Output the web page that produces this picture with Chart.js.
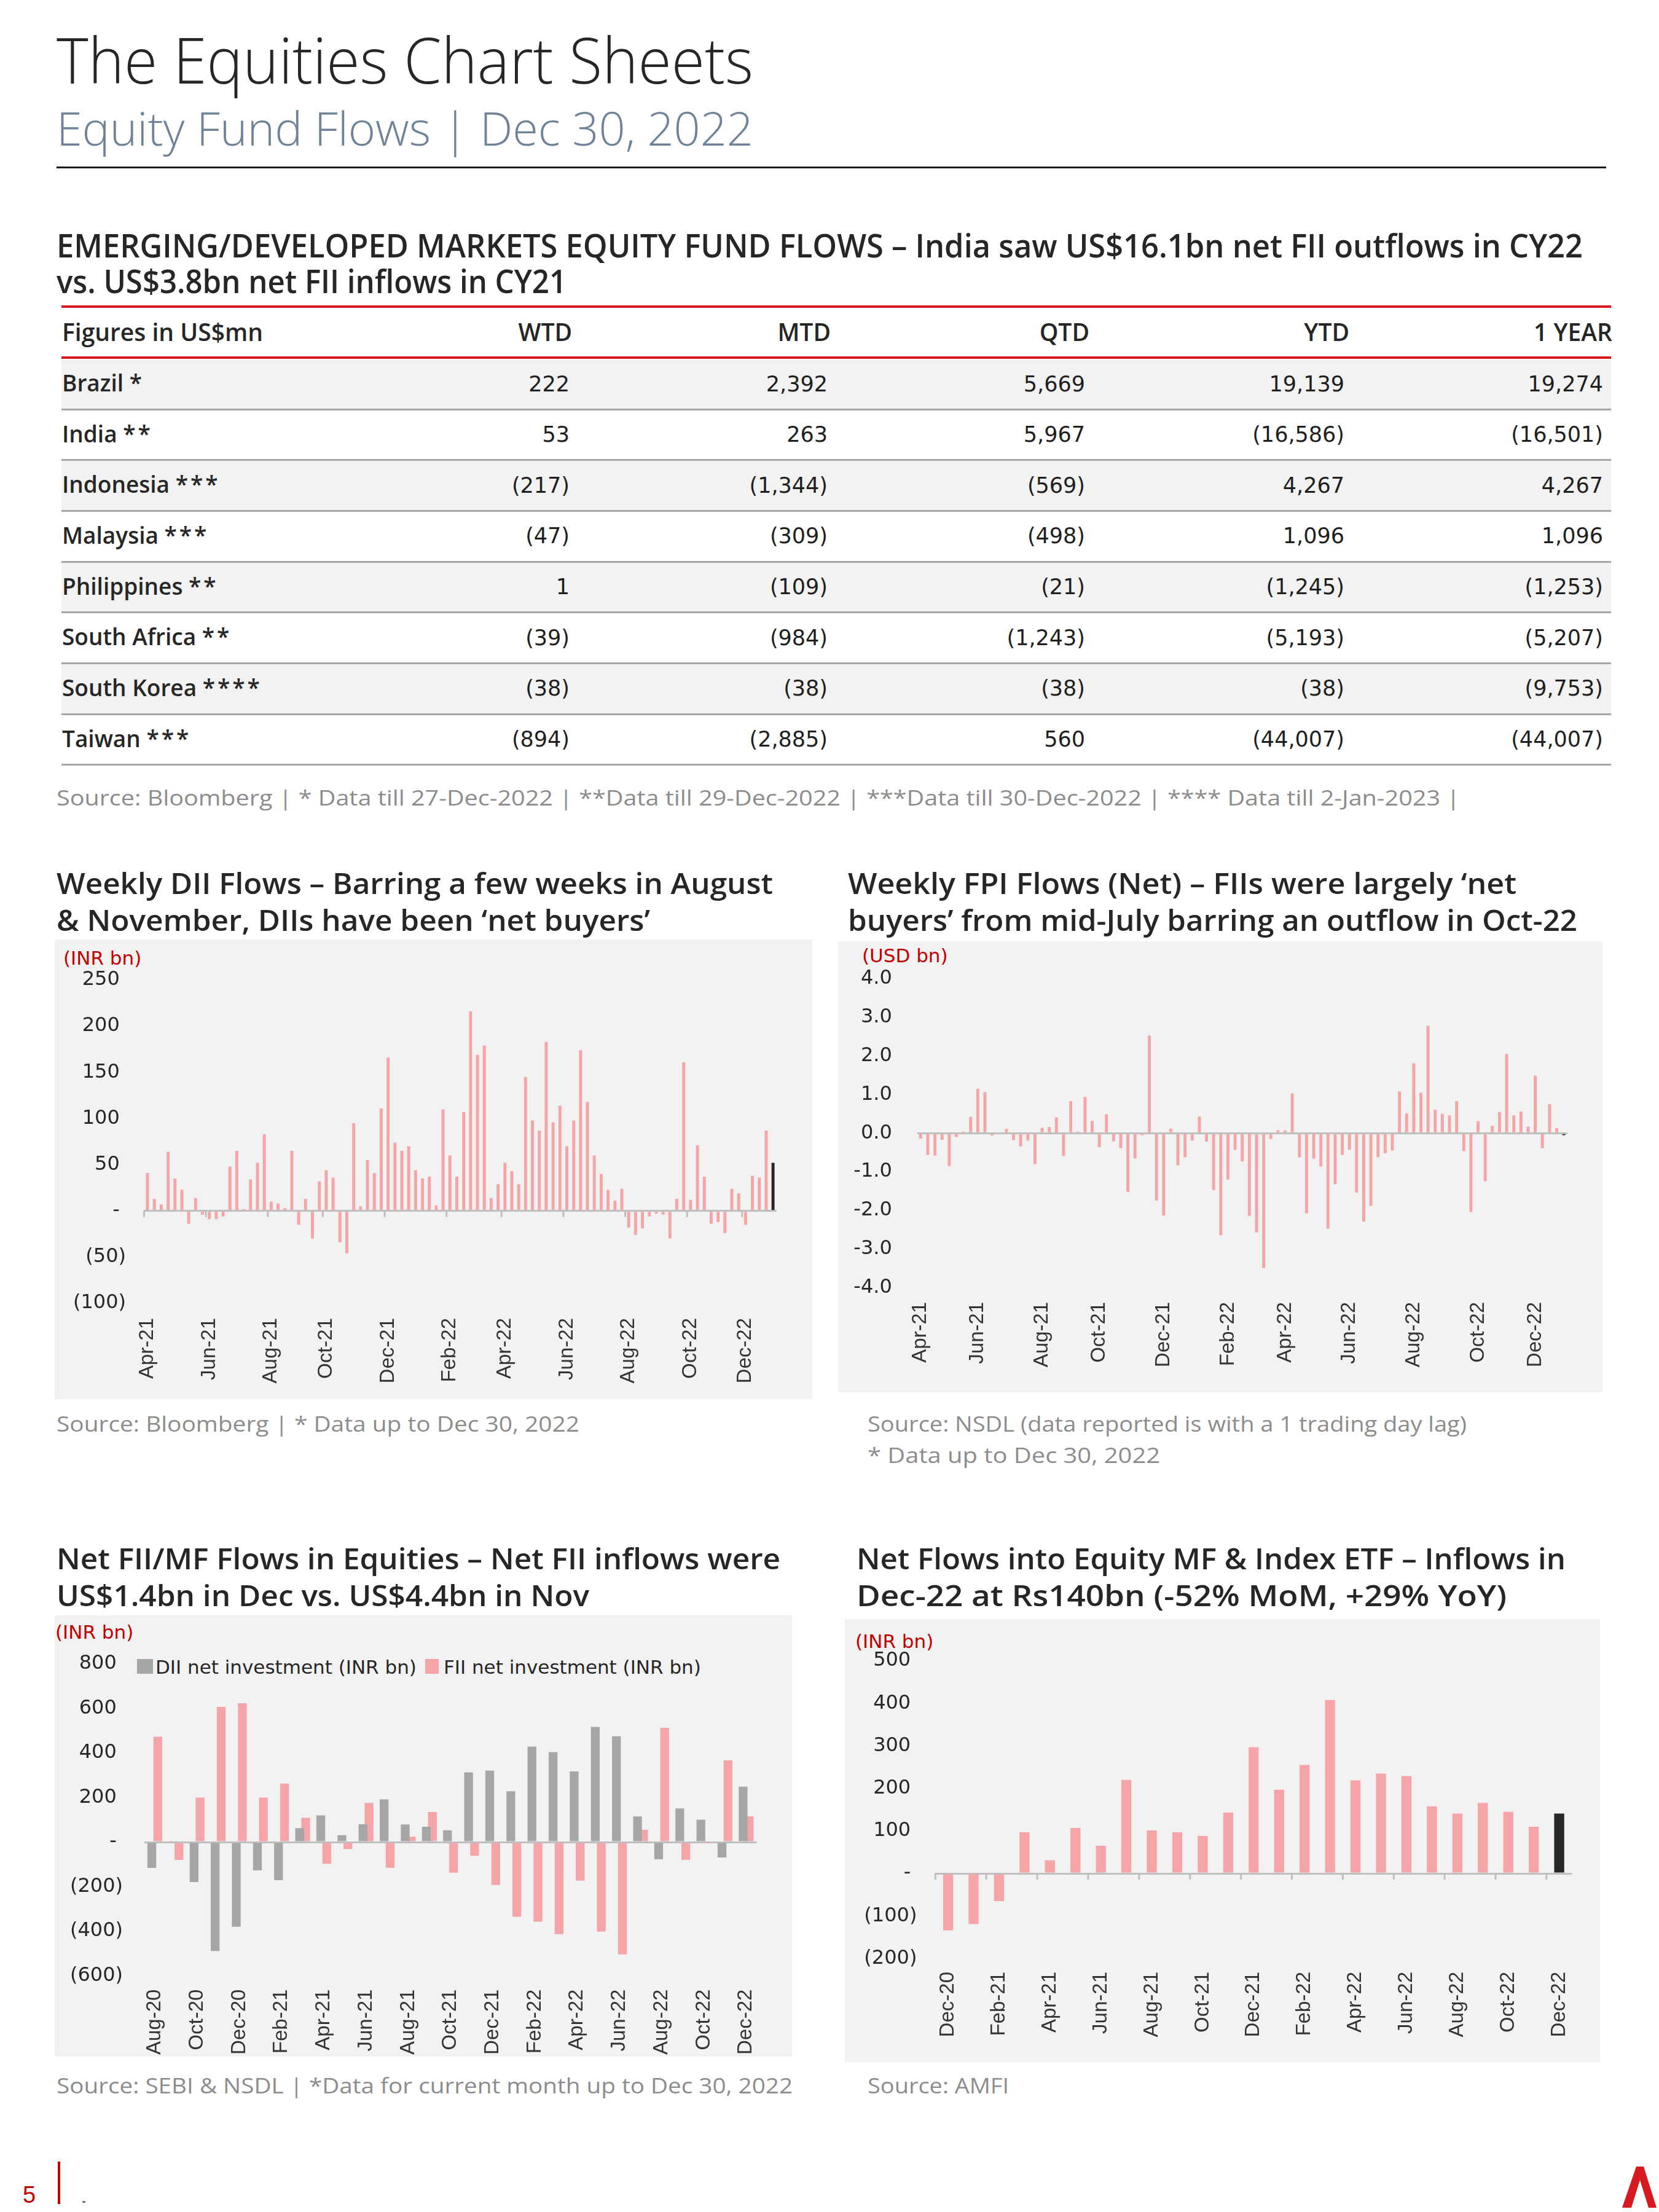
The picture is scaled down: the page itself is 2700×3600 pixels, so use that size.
<!DOCTYPE html>
<html>
<head>
<meta charset="utf-8">
<title>The Equities Chart Sheets</title>
<script src="https://cdn.jsdelivr.net/npm/chart.js@4.4.1/dist/chart.umd.min.js"></script>
<style>
  html, body { margin: 0; padding: 0; background: #fff; }
  #page { position: relative; width: 2700px; height: 3600px; overflow: hidden; }
  .abs { position: absolute; white-space: nowrap; line-height: 1; }
  .fit { display: inline-block; transform-origin: 0 0; }
  .head { font-family: "Open Sans", sans-serif; color: #262626; }
  .title { font-weight: 300; font-size: 104px; }
  .subtitle { font-weight: 300; font-size: 76px; color: #6f8398; }
  .section { font-weight: 600; font-size: 52px; }
  .ctitle { font-weight: 600; font-size: 47px; }
  .src { font-family: "Open Sans", sans-serif; font-size: 34px; color: #8c8c8c; }
  .unit { font-family: "DejaVu Sans", sans-serif; font-size: 31px; color: #c00000; }
  .panel { position: absolute; background: #f2f2f2; }
  .cell { font-family: "DejaVu Sans", sans-serif; font-size: 35px; color: #1f1f1f; }
  .lbl { font-family: "Open Sans", sans-serif; font-weight: 600; font-size: 37px; color: #262626; }
  .lbl .ast { letter-spacing: 4px; }
  .th { font-family: "Open Sans", sans-serif; font-weight: 600; font-size: 39px; color: #262626; }
  canvas { position: absolute; }
</style>
</head>
<body>
<div id="page">
  <div class="abs head title" style="left:92px;top:44px"><span class="fit" data-w="1134">The Equities Chart Sheets</span></div>
  <div class="abs head subtitle" style="left:92px;top:170px"><span class="fit" data-w="1134">Equity Fund Flows | Dec 30, 2022</span></div>
  <div class="abs" style="left:92px;top:271px;width:2522px;height:3px;background:#1a1a1a"></div>

  <div class="abs head section" style="left:92px;top:373px"><span class="fit" data-w="2484">EMERGING/DEVELOPED MARKETS EQUITY FUND FLOWS – India saw US$16.1bn net FII outflows in CY22</span></div>
  <div class="abs head section" style="left:92px;top:431px"><span class="fit" data-w="830">vs. US$3.8bn net FII inflows in CY21</span></div>

  <div id="table"></div>

  <div class="abs src" style="left:92px;top:1281px"><span class="fit" data-w="2284">Source: Bloomberg | * Data till 27-Dec-2022 | **Data till 29-Dec-2022 | ***Data till 30-Dec-2022 | **** Data till 2-Jan-2023 |</span></div>

  <!-- chart 1 -->
  <div class="abs head ctitle" style="left:92px;top:1414px"><span class="fit" data-w="1166">Weekly DII Flows – Barring a few weeks in August</span></div>
  <div class="abs head ctitle" style="left:92px;top:1474px"><span class="fit" data-w="966">&amp; November, DIIs have been ‘net buyers’</span></div>
  <div class="panel" style="left:89px;top:1529px;width:1233px;height:748px"></div>
  <div class="abs unit" style="left:103px;top:1544px">(INR bn)</div>
  <canvas id="diiChart" width="1233" height="748" style="left:89px;top:1529px"></canvas>
  <div class="abs src" style="left:92px;top:2300px"><span class="fit" data-w="851">Source: Bloomberg | * Data up to Dec 30, 2022</span></div>

  <!-- chart 2 -->
  <div class="abs head ctitle" style="left:1380px;top:1414px"><span class="fit" data-w="1088">Weekly FPI Flows (Net) – FIIs were largely ‘net</span></div>
  <div class="abs head ctitle" style="left:1380px;top:1474px"><span class="fit" data-w="1187">buyers’ from mid-July barring an outflow in Oct-22</span></div>
  <div class="panel" style="left:1364px;top:1532px;width:1244px;height:734px"></div>
  <div class="abs unit" style="left:1403px;top:1540px">(USD bn)</div>
  <canvas id="fpiChart" width="1244" height="734" style="left:1364px;top:1532px"></canvas>
  <div class="abs src" style="left:1412px;top:2300px"><span class="fit" data-w="975">Source: NSDL (data reported is with a 1 trading day lag)</span></div>
  <div class="abs src" style="left:1412px;top:2351px"><span class="fit" data-w="476">* Data up to Dec 30, 2022</span></div>

  <!-- chart 3 -->
  <div class="abs head ctitle" style="left:92px;top:2513px"><span class="fit" data-w="1178">Net FII/MF Flows in Equities – Net FII inflows were</span></div>
  <div class="abs head ctitle" style="left:92px;top:2573px"><span class="fit" data-w="867">US$1.4bn in Dec vs. US$4.4bn in Nov</span></div>
  <div class="panel" style="left:89px;top:2629px;width:1200px;height:718px"></div>
  <div class="abs unit" style="left:90px;top:2641px">(INR bn)</div>
  <div id="flowLegend"></div>
  <canvas id="flowChart" width="1200" height="718" style="left:89px;top:2629px"></canvas>
  <div class="abs src" style="left:92px;top:3377px"><span class="fit" data-w="1198">Source: SEBI &amp; NSDL | *Data for current month up to Dec 30, 2022</span></div>

  <!-- chart 4 -->
  <div class="abs head ctitle" style="left:1394px;top:2513px"><span class="fit" data-w="1154">Net Flows into Equity MF &amp; Index ETF – Inflows in</span></div>
  <div class="abs head ctitle" style="left:1394px;top:2573px"><span class="fit" data-w="1058">Dec-22 at Rs140bn (-52% MoM, +29% YoY)</span></div>
  <div class="panel" style="left:1375px;top:2635px;width:1229px;height:721px"></div>
  <div class="abs unit" style="left:1392px;top:2656px">(INR bn)</div>
  <canvas id="mfChart" width="1229" height="721" style="left:1375px;top:2635px"></canvas>
  <div class="abs src" style="left:1412px;top:3377px"><span class="fit" data-w="230">Source: AMFI</span></div>

  <!-- footer -->
  <div class="abs" style="left:37px;top:3553px;font-family:'Liberation Sans';font-size:38px;color:#c00000">5</div>
  <div class="abs" style="left:94px;top:3518px;width:4px;height:69px;background:#c00000"></div>
  <div class="abs" style="left:134px;top:3582px;width:5px;height:3px;background:#777"></div>
  <svg class="abs" style="left:2640px;top:3526px" width="56" height="67" viewBox="0 0 56 67">
    <polygon points="0,67 23,0 35,0 56,67 43,67 29,22 15,67" fill="#d71920"/>
  </svg>
</div>

<script>
// ---- table data (US$mn) ----
const tableCountries = ["Brazil", "India", "Indonesia", "Malaysia", "Philippines", "South Africa", "South Korea", "Taiwan"];
const tableMarks = ["*", "**", "***", "***", "**", "**", "****", "***"];
const tableColumns = ["WTD", "MTD", "QTD", "YTD", "1 YEAR"];
const flowsWTD = [222, 53, -217, -47, 1, -39, -38, -894];
const flowsMTD = [2392, 263, -1344, -309, -109, -984, -38, -2885];
const flowsQTD = [5669, 5967, -569, -498, -21, -1243, -38, 560];
const flowsYTD = [19139, -16586, 4267, 1096, -1245, -5193, -38, -44007];
const flows1Y = [19274, -16501, 4267, 1096, -1253, -5207, -9753, -44007];

// ---- weekly DII flows (INR bn), weeks ending Fridays from 2-Apr-2021 ----
const diiStart = "2021-04-02";
const diiWeekly = [41, 13, 7, 64, 35, 23, -14, 14, -4, -9, -9, -6, 48, 65, 2, 34, 52, 83, 10, 8,
  3, 65, -15, 13, -30, 32, 44, 36, -34, -46, 95, 5, 55, 41, 111, 166, 74, 65, 70, 44,
  35, 37, 6, 110, 60, 37, 107, 216, 169, 179, 14, 29, 52, 43, 29, 145, 98, 87, 183, 96,
  114, 70, 98, 174, 118, 60, 40, 23, 11, 24, -18, -26, -19, -6, -3, -4, -30, 13, 161, 12,
  71, 37, -14, -12, -24, 24, 19, -15, 38, 36, 87, 52];

// ---- weekly FPI flows (USD bn), weeks ending Fridays from 9-Apr-2021 ----
const fpiStart = "2021-04-09";
const fpiWeekly = [-0.14, -0.56, -0.58, -0.17, -0.85, -0.10, 0.04, 0.42, 1.15, 1.06,
  -0.06, -0.02, 0.11, -0.18, -0.34, -0.19, -0.80, 0.14, 0.16, 0.41,
  -0.59, 0.83, 0.04, 0.94, 0.32, -0.36, 0.49, -0.21, -0.39, -1.52,
  -0.65, -0.05, 2.53, -1.74, -2.13, 0.12, -0.83, -0.62, -0.19, 0.43,
  -0.22, -1.47, -2.64, -1.20, -0.43, -0.73, -2.14, -2.57, -3.49, -0.15,
  0.08, 0.07, 1.03, -0.63, -2.07, -0.66, -0.86, -2.47, -1.32, -0.56,
  -0.43, -1.54, -2.29, -1.88, -0.62, -0.52, -0.45, 1.08, 0.51, 1.81,
  1.05, 2.78, 0.61, 0.50, 0.46, 0.83, -0.46, -2.04, 0.31, -1.24,
  0.19, 0.55, 2.05, 0.46, 0.56, 0.17, 1.49, -0.39, 0.75, 0.13, -0.05];
const weeklyTickLabels = ["Apr-21", "Jun-21", "Aug-21", "Oct-21", "Dec-21", "Feb-22", "Apr-22", "Jun-22", "Aug-22", "Oct-22", "Dec-22"];

// ---- monthly FII / DII net investment (INR bn) ----
const flowMonths = ["Aug-20", "Sep-20", "Oct-20", "Nov-20", "Dec-20", "Jan-21", "Feb-21", "Mar-21", "Apr-21", "May-21",
  "Jun-21", "Jul-21", "Aug-21", "Sep-21", "Oct-21", "Nov-21", "Dec-21", "Jan-22", "Feb-22", "Mar-22",
  "Apr-22", "May-22", "Jun-22", "Jul-22", "Aug-22", "Sep-22", "Oct-22", "Nov-22", "Dec-22"];
const flowSeriesNames = ["DII net investment (INR bn)", "FII net investment (INR bn)"];
const diiMonthly = [-116, 5, -179, -489, -380, -127, -171, 63, 120, 31, 80, 192, 79, 69, 53, 313, 321, 228, 429, 404,
  317, 517, 475, 115, -77, 151, 101, -69, 249];
const fiiMonthly = [473, -80, 200, 607, 623, 200, 263, 109, -97, -31, 176, -115, 24, 135, -137, -61, -192, -335, -357, -413,
  -173, -401, -504, 55, 513, -79, -2, 367, 115];
const flowTickLabels = ["Aug-20", "Oct-20", "Dec-20", "Feb-21", "Apr-21", "Jun-21", "Aug-21", "Oct-21", "Dec-21", "Feb-22", "Apr-22", "Jun-22", "Aug-22", "Oct-22", "Dec-22"];

// ---- monthly net flows into equity MF & index ETF (INR bn) ----
const mfMonths = ["Dec-20", "Jan-21", "Feb-21", "Mar-21", "Apr-21", "May-21", "Jun-21", "Jul-21", "Aug-21", "Sep-21",
  "Oct-21", "Nov-21", "Dec-21", "Jan-22", "Feb-22", "Mar-22", "Apr-22", "May-22", "Jun-22", "Jul-22",
  "Aug-22", "Sep-22", "Oct-22", "Nov-22", "Dec-22"];
const mfFlows = [-134, -119, -65, 97, 31, 107, 65, 220, 101, 97, 88, 143, 297, 197, 255, 408, 219, 235, 229, 158,
  141, 166, 145, 110, 141];
const mfTickLabels = ["Dec-20", "Feb-21", "Apr-21", "Jun-21", "Aug-21", "Oct-21", "Dec-21", "Feb-22", "Apr-22", "Jun-22", "Aug-22", "Oct-22", "Dec-22"];

const PINK = "#f5a5a8";
const GREY = "#a6a6a6";
const BLACK = "#262626";
const MON = ["Jan", "Feb", "Mar", "Apr", "May", "Jun", "Jul", "Aug", "Sep", "Oct", "Nov", "Dec"];

const fmtInt = (n) => Math.round(n).toLocaleString("en-US");
const tableNum = (n) => (n < 0 ? `(${fmtInt(-n)})` : fmtInt(n));
const accounting = (v) => {
  if (v === 0) return "-\u00a0";
  return v < 0 ? `(${fmtInt(-v)})` : `${fmtInt(v)}\u00a0`;
};

// week labels; a week opens a month when its month differs from the previous week
function weekLabels(start, n) {
  const t0 = new Date(start + "T00:00:00Z").getTime();
  const out = [];
  for (let i = 0; i < n; i++) {
    const d = new Date(t0 + i * 7 * 864e5);
    const lab = `${MON[d.getUTCMonth()]}-${String(d.getUTCFullYear()).slice(2)}`;
    out.push({ lab, first: i === 0 || out[i - 1].lab !== lab });
  }
  return out;
}

function renderTable() {
  const host = document.getElementById("table");
  const cols = [flowsWTD, flowsMTD, flowsQTD, flowsYTD, flows1Y];
  const headRight = [931, 1352, 1773, 2196, 2624];
  const numRight = [927, 1347, 1766, 2188, 2609];
  const rowTop = 585, rowH = 82.65;
  let html = `<div class="abs" style="left:100px;top:497px;width:2522px;height:4px;background:#d71920"></div>`;
  html += `<div class="abs th" style="left:101px;top:520px">Figures in US$mn</div>`;
  tableColumns.forEach((c, j) => {
    html += `<div class="abs th" style="left:${headRight[j] - 400}px;width:400px;text-align:right;top:520px">${c}</div>`;
  });
  html += `<div class="abs" style="left:100px;top:580px;width:2522px;height:4px;background:#d71920"></div>`;
  tableCountries.forEach((name, i) => {
    const top = rowTop + i * rowH;
    if (i % 2 === 0) html += `<div class="abs" style="left:100px;top:${top}px;width:2522px;height:${rowH - 3}px;background:#f2f2f2"></div>`;
    html += `<div class="abs" style="left:100px;top:${top + rowH - 3}px;width:2522px;height:3px;background:#a6a6a6"></div>`;
    html += `<div class="abs lbl" style="left:101px;top:${top + 19}px">${name} <span class="ast">${tableMarks[i]}</span></div>`;
    cols.forEach((arr, j) => {
      html += `<div class="abs cell" style="left:${numRight[j] - 400}px;width:400px;text-align:right;top:${top + 22.5}px">${tableNum(arr[i])}</div>`;
    });
  });
  host.innerHTML = html;
}

function renderLegend() {
  const host = document.getElementById("flowLegend");
  const items = [
    { name: flowSeriesNames[0], color: GREY, box: [223, 26], text: 253 },
    { name: flowSeriesNames[1], color: PINK, box: [692, 22], text: 722 }
  ];
  host.innerHTML = items.map((it) => `
    <div class="abs" style="left:${it.box[0]}px;top:2700px;width:${it.box[1]}px;height:24px;background:${it.color}"></div>
    <div class="abs" style="left:${it.text}px;top:2698px;font-family:'DejaVu Sans';font-size:31px;color:#262626">${it.name}</div>
  `).join("");
}

function zeroTicks(indices) {
  return {
    id: "zeroTicks",
    afterDatasetsDraw(chart) {
      const x = chart.scales.x;
      const y0 = chart.scales.y.getPixelForValue(0);
      const half = (x.getPixelForValue(1) - x.getPixelForValue(0)) / 2;
      const ctx = chart.ctx;
      ctx.save();
      ctx.strokeStyle = "#bfbfbf";
      ctx.lineWidth = 3;
      indices.forEach((i) => {
        const px = x.getPixelForValue(i) - half;
        ctx.beginPath();
        ctx.moveTo(px, y0);
        ctx.lineTo(px, y0 + 10);
        ctx.stroke();
      });
      ctx.restore();
    }
  };
}

function barChart(id, cfg) {
  return new Chart(document.getElementById(id), {
    type: "bar",
    data: { labels: cfg.labels, datasets: cfg.datasets },
    options: {
      responsive: false,
      animation: false,
      devicePixelRatio: 1,
      layout: { padding: { left: 0, right: cfg.padRight, top: cfg.padTop, bottom: 0 } },
      plugins: { legend: { display: false }, tooltip: { enabled: false } },
      scales: {
        x: {
          offset: true,
          grid: { display: false, drawTicks: false },
          border: { display: false },
          ticks: {
            autoSkip: false, minRotation: 90, maxRotation: 90, padding: cfg.xPad,
            font: { family: "Liberation Sans", size: 33 }, color: "#333",
            callback: (v, i) => cfg.tickText(i)
          },
          afterFit: (s) => { s.height = cfg.xHeight; }
        },
        y: {
          min: cfg.min, max: cfg.max,
          grid: {
            drawTicks: false,
            color: (c) => (c.tick && c.tick.value === 0 ? "#bfbfbf" : "rgba(0,0,0,0)"),
            lineWidth: (c) => (c.tick && c.tick.value === 0 ? 3 : 0)
          },
          border: { display: false },
          ticks: {
            stepSize: cfg.step, padding: cfg.yPad,
            font: { family: "DejaVu Sans", size: 32 }, color: "#262626",
            callback: cfg.yFormat
          },
          afterFit: (s) => { s.width = cfg.yWidth; }
        }
      }
    },
    plugins: cfg.ticksAt ? [zeroTicks(cfg.ticksAt)] : []
  });
}

function lastBlack(data, base) {
  return data.map((v, i) => (i === data.length - 1 ? BLACK : base));
}

function renderCharts() {
  const diiWeeks = weekLabels(diiStart, diiWeekly.length);
  const diiTickIdx = diiWeeks.map((w, i) => (w.first && weeklyTickLabels.includes(w.lab) ? i : -1)).filter((i) => i >= 0);
  barChart("diiChart", {
    labels: diiWeeks.map((w) => w.lab),
    datasets: [{ data: diiWeekly, backgroundColor: lastBlack(diiWeekly, PINK), barPercentage: 0.44, categoryPercentage: 1 }],
    tickText: (i) => (diiTickIdx.includes(i) ? diiWeeks[i].lab : ""),
    ticksAt: diiTickIdx,
    min: -100, max: 250, step: 50, yFormat: accounting,
    yWidth: 145.4, yPad: 29.4, padRight: 51.4, padTop: 66, xHeight: 156, xPad: 24
  });

  const fpiWeeks = weekLabels(fpiStart, fpiWeekly.length);
  const fpiTickIdx = fpiWeeks.map((w, i) => (w.first && weeklyTickLabels.includes(w.lab) ? i : -1)).filter((i) => i >= 0);
  barChart("fpiChart", {
    labels: fpiWeeks.map((w) => w.lab),
    datasets: [{ data: fpiWeekly, backgroundColor: lastBlack(fpiWeekly, PINK), barPercentage: 0.42, categoryPercentage: 1 }],
    tickText: (i) => (fpiTickIdx.includes(i) ? fpiWeeks[i].lab : ""),
    min: -4, max: 4, step: 1, yFormat: (v) => Number(v).toFixed(1),
    yWidth: 128.5, yPad: 40.7, padRight: 52.9, padTop: 60.7, xHeight: 170.2, xPad: 23
  });

  barChart("flowChart", {
    labels: flowMonths,
    datasets: [
      { label: flowSeriesNames[0], data: diiMonthly, backgroundColor: GREY, barPercentage: 1.46, categoryPercentage: 0.57 },
      { label: flowSeriesNames[1], data: fiiMonthly, backgroundColor: PINK, barPercentage: 1.46, categoryPercentage: 0.57 }
    ],
    tickText: (i) => (flowTickLabels.includes(flowMonths[i]) ? flowMonths[i] : ""),
    min: -600, max: 800, step: 200, yFormat: accounting,
    yWidth: 145.8, yPad: 34.8, padRight: 57.5, padTop: 78.9, xHeight: 131.4, xPad: 22
  });

  const mfTickIdx = mfMonths.map((m, i) => (mfTickLabels.includes(m) ? i : -1)).filter((i) => i >= 0);
  barChart("mfChart", {
    labels: mfMonths,
    datasets: [{ data: mfFlows, backgroundColor: lastBlack(mfFlows, PINK), barPercentage: 0.394, categoryPercentage: 1 }],
    tickText: (i) => (mfTickIdx.includes(i) ? mfMonths[i] : ""),
    ticksAt: mfTickIdx,
    min: -200, max: 500, step: 100, yFormat: accounting,
    yWidth: 147.3, yPad: 29.9, padRight: 45.7, padTop: 68, xHeight: 168.6, xPad: 21.6
  });
}

function fitHeadings() {
  document.querySelectorAll(".fit").forEach((el) => {
    const target = Number(el.dataset.w);
    const w = el.getBoundingClientRect().width;
    if (w > 0) el.style.transform = `scaleX(${target / w})`;
  });
}

renderTable();
renderLegend();
(document.fonts ? document.fonts.ready : Promise.resolve()).then(() => {
  fitHeadings();
  renderCharts();
});
</script>
</body>
</html>
